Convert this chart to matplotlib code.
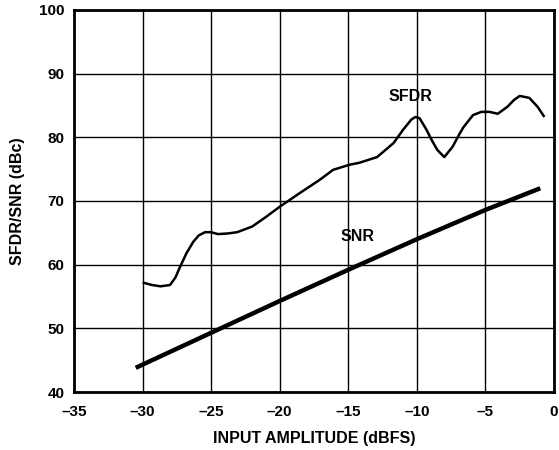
import matplotlib
matplotlib.use("Agg")
import matplotlib.pyplot as plt
from matplotlib.ticker import FuncFormatter

plt.rcParams['font.family'] = ['Liberation Sans', 'DejaVu Sans']

sfdr_x = [-30.0, -29.3, -28.7, -28.0, -27.6, -27.3, -26.8, -26.3, -25.9, -25.45, -25.0, -24.5, -23.8,
          -23.1, -22.0, -21.0, -20.0, -18.5, -17.1, -16.1, -14.9, -14.2, -12.9, -11.7, -11.0,
          -10.4, -10.1, -9.8, -9.3, -8.9, -8.5, -8.0, -7.4, -6.9, -6.6, -5.9, -5.3, -4.7,
          -4.1, -3.4, -2.9, -2.5, -1.8, -1.2, -0.7]
sfdr_y = [57.2, 56.8, 56.6, 56.8, 58.0, 59.5, 61.8, 63.6, 64.6, 65.1, 65.1, 64.8, 64.9,
          65.1, 66.0, 67.5, 69.1, 71.3, 73.3, 74.9, 75.7, 76.0, 76.9, 79.1, 81.2,
          82.8, 83.2, 83.0, 81.2, 79.5, 78.0, 76.9, 78.5, 80.5, 81.6, 83.5, 84.0, 84.0,
          83.7, 84.8, 85.9, 86.5, 86.2, 84.8, 83.2]

snr_x = [-30.5, -25.0, -20.0, -15.0, -10.0, -5.0, -1.0]
snr_y = [43.8, 49.3, 54.3, 59.2, 64.0, 68.6, 72.0]

x_ticks = [-35, -30, -25, -20, -15, -10, -5, 0]
y_ticks = [40, 50, 60, 70, 80, 90, 100]

fig = plt.figure(figsize=(5.59, 4.5), dpi=100)
ax = fig.add_axes([74/559, 1-392/450, (554-74)/559, (392-10)/450])

ax.plot(sfdr_x, sfdr_y, color='black', lw=1.8, solid_capstyle='butt')
ax.plot(snr_x, snr_y, color='black', lw=3.2, solid_capstyle='butt')

ax.set_xlim(-35, 0)
ax.set_ylim(40, 100)
ax.set_xticks(x_ticks)
ax.set_yticks(y_ticks)
fmt = FuncFormatter(lambda v, p: ('\u2013' + str(int(abs(v)))) if v < 0 else str(int(v)))
ax.xaxis.set_major_formatter(fmt)
ax.grid(True, color='black', lw=1.0)
ax.tick_params(length=0, labelsize=11)
ax.tick_params(axis='x', pad=9)
ax.tick_params(axis='y', pad=7)
for lab in ax.get_xticklabels() + ax.get_yticklabels():
    lab.set_fontweight('bold')
for s in ax.spines.values():
    s.set_linewidth(2)

ax.set_xlabel('INPUT AMPLITUDE (dBFS)', fontsize=11.5, fontweight='bold', labelpad=9)
ax.set_ylabel('SFDR/SNR (dBc)', fontsize=11.5, fontweight='bold', labelpad=10)

ax.text(-10.5, 86.4, 'SFDR', fontsize=11.5, fontweight='bold', ha='center', va='center')
ax.text(-14.3, 64.5, 'SNR', fontsize=11.5, fontweight='bold', ha='center', va='center')

fig.savefig('out.png', dpi=100)
